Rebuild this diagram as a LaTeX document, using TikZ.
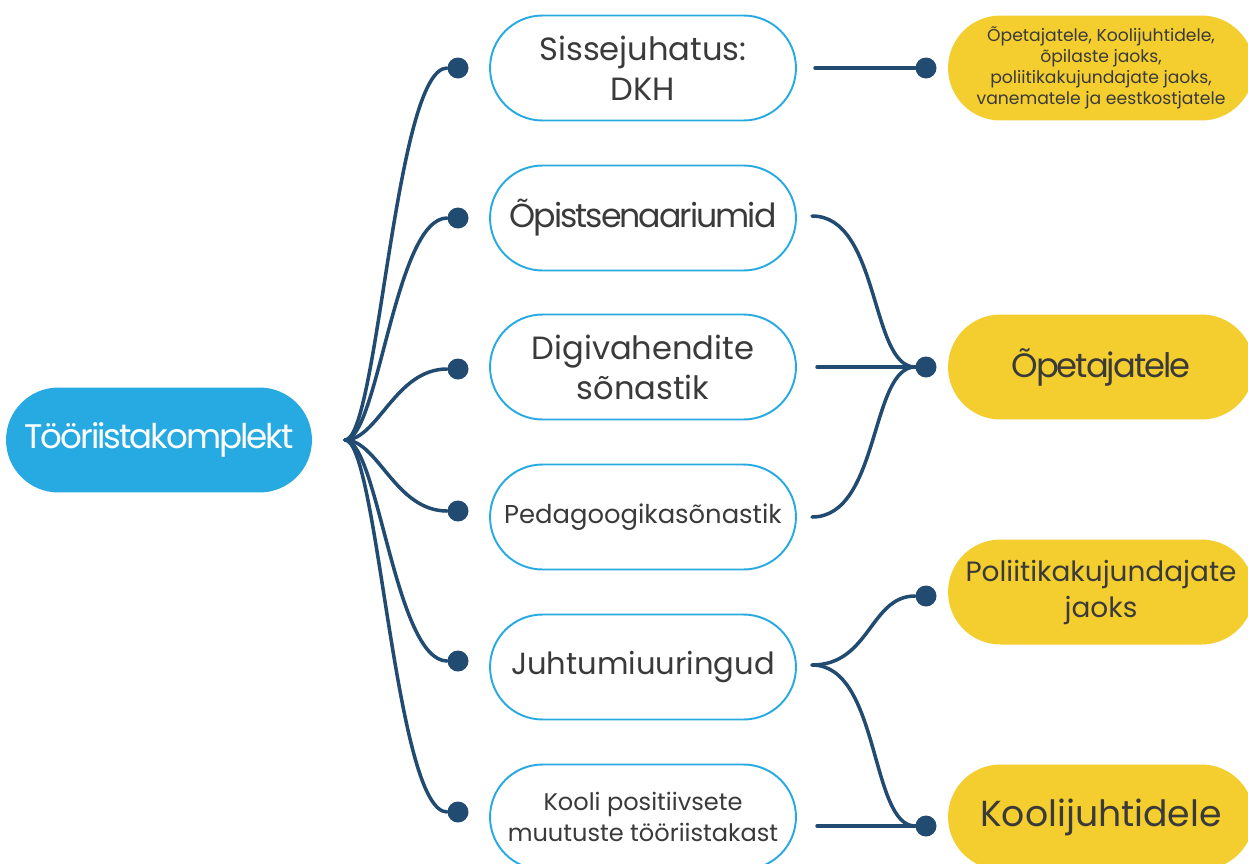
\documentclass[tikz,border=0pt]{standalone}
\usepackage{fontspec}
\setmainfont{Poppins}
\newfontfamily\tight{Poppins}[LetterSpace=-6.0]
\definecolor{sky}{HTML}{27AAE1}
\definecolor{gold}{HTML}{F4CE2E}
\definecolor{navy}{HTML}{224B72}
\definecolor{txt}{HTML}{3A3A3A}
\begin{document}
\begin{tikzpicture}[x=0.02cm,y=-0.02cm,
  base/.style={rounded corners=1.05cm, minimum width=6.12cm, minimum height=2.1cm, align=center, inner sep=0pt, text=txt},
  topic/.style={base, draw=sky, line width=1.1pt, fill=white},
  target/.style={base, fill=gold},
  root/.style={base, fill=sky, text=white},
  dot/.style={circle, fill=navy, minimum size=0.42cm, inner sep=0pt},
  link/.style={draw=navy, line width=2pt, line cap=round},
  big/.style={font=\fontsize{18.3}{22.7}\selectfont},
  mid/.style={font=\fontsize{14}{17.6}\selectfont}]
\clip (0,0) rectangle (1248,863);
\fill[white] (0,0) rectangle (1248,863);
% root
\node[root, font=\tight\fontsize{19.4}{22}\selectfont] (root) at (159,440) {Tööriistakomplekt};
\coordinate (hub) at (345,440);
% topics
\node[topic, big] (t1) at (643,68) {Sissejuhatus:\\DKH};
\node[topic, font=\tight\fontsize{18.9}{22}\selectfont] (t2) at (643,218) {Õpistsenaariumid};
\node[topic, big] (t3) at (643,367) {Digivahendite\\sõnastik};
\node[topic, font=\fontsize{14.7}{17.6}\selectfont] (t4) at (643,517) {Pedagoogikasõnastik};
\node[topic, font=\fontsize{17.4}{22}\selectfont] (t5) at (643,667) {Juhtumiuuringud};
\node[topic, font=\fontsize{13.7}{17.6}\selectfont] (t6) at (643,817) {Kooli positiivsete\\muutuste tööriistakast};
% targets
\node[target, font=\fontsize{9.8}{12}\selectfont] (g1) at (1101,68) {Õpetajatele, Koolijuhtidele,\\õpilaste jaoks,\\poliitikakujundajate jaoks,\\vanematele ja eestkostjatele};
\node[target, font=\tight\fontsize{19.2}{22}\selectfont] (g2) at (1101,367) {Õpetajatele};
\node[target, font=\fontsize{15.9}{20.5}\selectfont] (g3) at (1101,592) {Poliitikakujundajate\\jaoks};
\node[target, font=\fontsize{20.6}{22}\selectfont] (g4) at (1101,817) {Koolijuhtidele};
% dots
\node[dot] (dl1) at (458,68) {};
\node[dot] (dl2) at (458,218) {};
\node[dot] (dl3) at (458,369) {};
\node[dot] (dl4) at (458,511) {};
\node[dot] (dl5) at (458,661) {};
\node[dot] (dl6) at (458,812) {};
\node[dot] (dr1) at (926,68) {};
\node[dot] (dr2) at (926,367) {};
\node[dot] (dr3) at (926,596) {};
\node[dot] (dr4) at (926,826) {};
% connector starts
\coordinate (s1) at (815,68);
\coordinate (s2) at (812,216);
\coordinate (s3) at (817,367);
\coordinate (s4) at (812,517);
\coordinate (s5) at (812,665);
\coordinate (s6) at (817,826);
% hub curves
\draw[link] (hub) .. controls (378,440) and (395,68) .. (dl1);
\draw[link] (hub) .. controls (378,440) and (395,218) .. (dl2);
\draw[link] (hub) .. controls (378,440) and (395,369) .. (dl3);
\draw[link] (hub) .. controls (378,440) and (395,511) .. (dl4);
\draw[link] (hub) .. controls (378,440) and (395,661) .. (dl5);
\draw[link] (hub) .. controls (378,440) and (395,812) .. (dl6);
% right connectors
\draw[link] (s1) -- (dr1);
\draw[link] (s2) .. controls (880,216) and (870,367) .. (dr2);
\draw[link] (s3) -- (dr2);
\draw[link] (s4) .. controls (880,517) and (870,367) .. (dr2);
\draw[link] (s5) .. controls (870,665) and (870,596) .. (dr3);
\draw[link] (s5) .. controls (880,665) and (870,826) .. (dr4);
\draw[link] (s6) -- (dr4);
\end{tikzpicture}
\end{document}
